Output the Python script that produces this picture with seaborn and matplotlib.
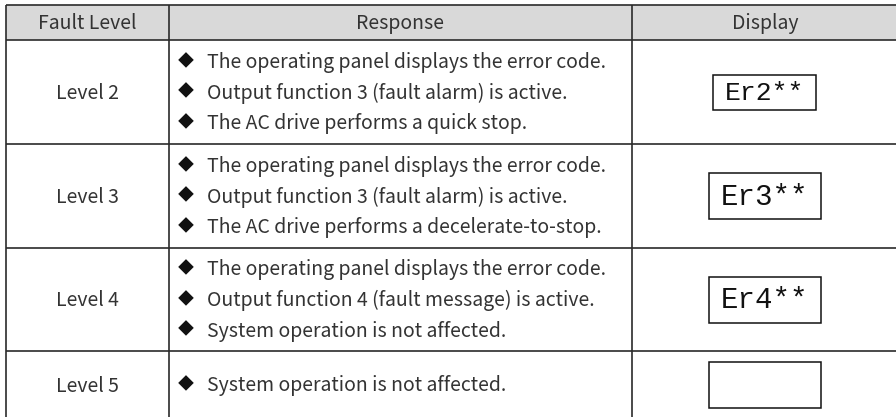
import matplotlib
matplotlib.use("Agg")
import matplotlib.pyplot as plt
import seaborn as sns
from matplotlib.patches import Rectangle

sns.set_theme(style="white")
plt.rcParams['font.family'] = ['Noto Sans CJK SC', 'DejaVu Sans']

# table content
headers = ["Fault Level", "Response", "Display"]
levels = ["Level 2", "Level 3", "Level 4", "Level 5"]
responses = [
    ["The operating panel displays the error code.",
     "Output function 3 (fault alarm) is active.",
     "The AC drive performs a quick stop."],
    ["The operating panel displays the error code.",
     "Output function 3 (fault alarm) is active.",
     "The AC drive performs a decelerate-to-stop."],
    ["The operating panel displays the error code.",
     "Output function 4 (fault message) is active.",
     "System operation is not affected."],
    ["System operation is not affected."],
]
codes = ["Er2**", "Er3**", "Er4**", ""]

# layout in pixels
col_x = [6, 169, 632, 898]
row_y = [5, 40, 144, 248, 351, 420]
line_gap = 30.5
box_w = [103, 112, 112, 112]
box_h = [35, 46, 46, 46]

fig = plt.figure(figsize=(8.96, 4.17), dpi=100)
ax = fig.add_axes([0, 0, 1, 1])
ax.set_xlim(0, 896)
ax.set_ylim(417, 0)
ax.axis("off")

# header fill
ax.add_patch(Rectangle((col_x[0], row_y[0]), col_x[-1] - col_x[0], row_y[1] - row_y[0],
                       facecolor="#d9d9d9", edgecolor="none", zorder=0))

# grid lines
for y in row_y:
    ax.plot([col_x[0], col_x[-1]], [y, y], color="#2b2b2b", lw=1.2, solid_capstyle="butt")
for x in col_x:
    ax.plot([x, x], [row_y[0], row_y[-1]], color="#2b2b2b", lw=1.2, solid_capstyle="butt")

fs = 14
tc = "#333333"
for i, h in enumerate(headers):
    ax.text((col_x[i] + col_x[i + 1]) / 2, (row_y[0] + row_y[1]) / 2 + 1, h,
            ha="center", va="center", fontsize=fs, color=tc)

for r, lvl in enumerate(levels):
    top, bot = row_y[r + 1], row_y[r + 2]
    if bot > 417:
        bot = 419
    cy = (top + bot) / 2
    ax.text((col_x[0] + col_x[1]) / 2, cy + 1, lvl, ha="center", va="center",
            fontsize=fs, color=tc)
    lines = responses[r]
    n = len(lines)
    for k, s in enumerate(lines):
        y = cy + (k - (n - 1) / 2) * line_gap
        ax.text(186, y, "\u25c6", ha="center", va="center", fontsize=11.5, color="#111111")
        ax.text(207, y + 1, s, ha="left", va="center", fontsize=fs, color=tc)
    # display box
    dx = (col_x[2] + 896) / 2 + 0.5
    ax.add_patch(Rectangle((dx - box_w[r] / 2, cy - box_h[r] / 2), box_w[r], box_h[r],
                           facecolor="white", edgecolor="#111111", lw=1.1))
    if codes[r]:
        ax.text(dx, cy + 1, codes[r], ha="center", va="center",
                fontsize=21 if r else 19, color="#111111",
                family="Liberation Mono")

fig.savefig("out.png", dpi=100)
